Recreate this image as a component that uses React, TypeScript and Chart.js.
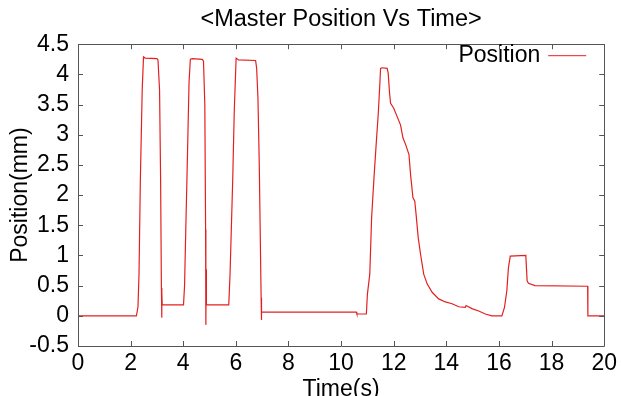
import React, { useEffect, useRef } from "react";
import { Chart, registerables } from "chart.js";

Chart.register(...registerables);

const timeS = [
  0, 2.22, 2.28, 2.32, 2.37, 2.44, 2.49, 2.55, 3.0, 3.04, 3.1, 3.14, 3.17, 3.18, 3.19, 3.2,
  4.01, 4.05, 4.1, 4.14, 4.22, 4.27, 4.35, 4.72, 4.77, 4.82, 4.85, 4.86, 4.87, 4.88,
  5.73, 5.78, 5.88, 5.94, 6.01, 6.1, 6.75, 6.79, 6.84, 6.89, 6.96, 6.97, 6.98, 7.0,
  10.58, 10.6, 10.96, 11.0, 11.09, 11.16, 11.25, 11.34, 11.41, 11.47, 11.5, 11.55, 11.75, 11.79, 11.84, 11.88,
  12.0, 12.13, 12.26, 12.35, 12.45, 12.58, 12.64, 12.73, 12.8, 12.85, 12.93, 13.02, 13.14, 13.27, 13.46, 13.71,
  13.96, 14.22, 14.47, 14.72, 14.75, 14.97, 15.23, 15.48, 15.73, 16.11,
  16.21, 16.3, 16.36, 16.43, 17.02, 17.07, 17.12, 17.37, 19.37, 19.38, 20,
];
const positionMm = [
  0, 0, 0.15, 0.71, 2.25, 3.74, 4.29, 4.27, 4.26, 4.24, 3.74, 2.25, 0.46, -0.03, 0.4, 0.18,
  0.18, 0.5, 1.5, 2.25, 3.86, 4.25, 4.26, 4.25, 4.22, 3.5, 1.43, -0.15, 0.77, 0.18,
  0.18, 0.7, 2.25, 3.4, 4.27, 4.24, 4.23, 4.1, 3.6, 2.5, 0.3, -0.07, 0.07, 0.06,
  0.06, 0.03, 0.03, 0.36, 0.69, 1.63, 2.29, 2.89, 3.33, 3.82, 4.1, 4.11, 4.1, 4.02, 3.7, 3.52,
  3.44, 3.3, 3.16, 2.95, 2.84, 2.67, 2.34, 1.96, 1.9, 1.68, 1.3, 1.02, 0.69, 0.53, 0.39, 0.28,
  0.23, 0.2, 0.15, 0.14, 0.17, 0.12, 0.08, 0.03, 0, 0,
  0.14, 0.42, 0.8, 0.99, 1.0, 0.58, 0.54, 0.5, 0.49, 0, 0,
];

const xTicks = [0, 2, 4, 6, 8, 10, 12, 14, 16, 18, 20];
const yTicks = [-0.5, 0, 0.5, 1, 1.5, 2, 2.5, 3, 3.5, 4, 4.5];
const xTickLabels = ["0", "2", "4", "6", "8", "10", "12", "14", "16", "18", "20"];
const yTickLabels = ["-0.5", "0", "0.5", "1", "1.5", "2", "2.5", "3", "3.5", "4", "4.5"];

const seriesName = "Position";
const chartTitle = "<Master Position Vs Time>";
const xTitle = "Time(s)";
const yTitle = "Position(mm)";

const FONT = "'Liberation Sans', Arial, sans-serif";
const LINE_COLOR = "rgb(226, 32, 32)";
const FRAME_COLOR = "#555555";

const framePlugin = {
  id: "gnuFrame",
  afterDatasetsDraw(chart: any) {
    const { ctx, chartArea, scales } = chart;
    const { left, right, top, bottom } = chartArea;
    const x = scales.x;
    const y = scales.y;
    ctx.save();
    ctx.strokeStyle = FRAME_COLOR;
    ctx.lineWidth = 1;
    ctx.beginPath();
    ctx.rect(Math.round(left) + 0.5, Math.round(top) + 0.5, Math.round(right - left), Math.round(bottom - top));
    ctx.stroke();
    const tl = 5;
    ctx.beginPath();
    xTicks.forEach((v) => {
      const px = Math.round(x.getPixelForValue(v)) + 0.5;
      ctx.moveTo(px, bottom);
      ctx.lineTo(px, bottom - tl);
      ctx.moveTo(px, top);
      ctx.lineTo(px, top + tl);
    });
    yTicks.forEach((v) => {
      const py = Math.round(y.getPixelForValue(v)) + 0.5;
      ctx.moveTo(left, py);
      ctx.lineTo(left + tl, py);
      ctx.moveTo(right, py);
      ctx.lineTo(right - tl, py);
    });
    ctx.stroke();

    // legend (text then sample line, gnuplot style)
    const ly = top + 11;
    ctx.fillStyle = "#000";
    ctx.font = `23px ${FONT}`;
    ctx.textAlign = "right";
    ctx.textBaseline = "middle";
    ctx.fillText(seriesName, right - 64, ly);
    ctx.strokeStyle = LINE_COLOR;
    ctx.beginPath();
    ctx.moveTo(right - 56, ly + 0.5);
    ctx.lineTo(right - 18, ly + 0.5);
    ctx.stroke();
    ctx.restore();
  },
};

export default function App() {
  const canvasRef = useRef<HTMLCanvasElement | null>(null);

  useEffect(() => {
    if (!canvasRef.current) return;
    const points = timeS.map((t, i) => ({ x: t, y: positionMm[i] }));
    const chart = new Chart(canvasRef.current, {
      type: "line",
      data: {
        datasets: [
          {
            label: seriesName,
            data: points,
            borderColor: LINE_COLOR,
            borderWidth: 1.2,
            pointRadius: 0,
            tension: 0,
            fill: false,
          },
        ],
      },
      options: {
        animation: false,
        responsive: true,
        maintainAspectRatio: false,
        layout: { padding: { top: 0, left: 0, right: 15, bottom: 0 } },
        plugins: {
          legend: { display: false },
          tooltip: { enabled: false },
          title: {
            display: true,
            text: chartTitle,
            fullSize: false,
            color: "#000",
            font: { family: FONT, size: 23.5, weight: "normal", lineHeight: 1.2 },
            padding: { top: 5, bottom: 11 },
          },
        },
        scales: {
          x: {
            type: "linear",
            min: 0,
            max: 20,
            afterBuildTicks: (scale: any) => {
              scale.ticks = xTicks.map((v) => ({ value: v }));
            },
            afterFit: (scale: any) => {
              scale.height = 50;
            },
            grid: { display: false, drawTicks: false },
            border: { display: false },
            ticks: {
              color: "#000",
              padding: 4,
              maxRotation: 0,
              autoSkip: false,
              font: { family: FONT, size: 23 },
              callback: (v: any) => {
                const i = xTicks.indexOf(Number(v));
                return i >= 0 ? xTickLabels[i] : "";
              },
            },
            title: {
              display: true,
              text: xTitle,
              color: "#000",
              font: { family: FONT, size: 23, lineHeight: 1 },
              padding: { top: 0, bottom: -5 },
            },
          },
          y: {
            type: "linear",
            min: -0.5,
            max: 4.5,
            afterBuildTicks: (scale: any) => {
              scale.ticks = yTicks.map((v) => ({ value: v }));
            },
            afterFit: (scale: any) => {
              scale.width = 78;
            },
            grid: { display: false, drawTicks: false },
            border: { display: false },
            ticks: {
              color: "#000",
              padding: 9,
              autoSkip: false,
              font: { family: FONT, size: 23 },
              callback: (v: any) => {
                const i = yTicks.indexOf(Number(v));
                return i >= 0 ? yTickLabels[i] : "";
              },
            },
            title: {
              display: true,
              text: yTitle,
              color: "#000",
              font: { family: FONT, size: 23, lineHeight: 1.2 },
              padding: { top: 7, bottom: 0 },
            },
          },
        },
      },
      plugins: [framePlugin],
    });
    return () => chart.destroy();
  }, []);

  return (
    <div style={{ position: "fixed", left: 0, top: 0, width: 621, height: 396, background: "#fff" }}>
      <canvas ref={canvasRef} />
    </div>
  );
}
